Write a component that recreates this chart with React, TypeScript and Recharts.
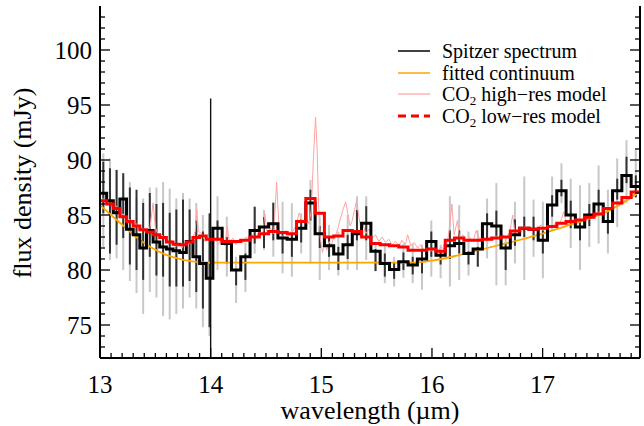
import React from 'react';
import { ComposedChart, Line, Scatter, ErrorBar, XAxis, YAxis, Label } from 'recharts';

const FONT = '"Liberation Serif", "Times New Roman", serif';

// bin edges of the binned Spitzer spectrum (µm)
const binEdges = [
  13.00, 13.06, 13.12, 13.18, 13.24, 13.30, 13.36, 13.42, 13.48, 13.54, 13.60, 13.66, 13.72, 13.78, 13.84, 13.90, 13.96,
  14.02, 14.104, 14.188, 14.272, 14.356, 14.44, 14.524, 14.608, 14.692, 14.776, 14.86, 14.944, 15.028, 15.112, 15.196,
  15.28, 15.364, 15.448, 15.532, 15.616, 15.70, 15.784, 15.868, 15.952, 16.036, 16.12, 16.204, 16.288, 16.372, 16.456,
  16.54, 16.624, 16.708, 16.792, 16.876, 16.96, 17.044, 17.128, 17.212, 17.296, 17.38, 17.464, 17.548, 17.632, 17.716,
  17.80, 17.884,
];

// bin centres (where the error bars sit)
const binCenters = [
  13.03, 13.09, 13.15, 13.21, 13.27, 13.33, 13.39, 13.45, 13.51, 13.57, 13.63, 13.69, 13.75, 13.81, 13.87, 13.93, 13.99,
  14.062, 14.146, 14.23, 14.314, 14.398, 14.482, 14.566, 14.65, 14.734, 14.818, 14.902, 14.986, 15.07, 15.154, 15.238,
  15.322, 15.406, 15.49, 15.574, 15.658, 15.742, 15.826, 15.91, 15.994, 16.078, 16.162, 16.246, 16.33, 16.414, 16.498,
  16.582, 16.666, 16.75, 16.834, 16.918, 17.002, 17.086, 17.17, 17.254, 17.338, 17.422, 17.506, 17.59, 17.674, 17.758,
  17.842,
];

// Spitzer spectrum (mJy), one value per bin
const spitzer = [
  86.97, 86.3, 85.2, 86.45, 83.7, 83.2, 82.0, 83.6, 82.55, 82.1, 81.9, 81.75, 81.6, 82.6, 81.2, 80.6, 79.25,
  83.8, 82.4, 80.0, 81.2, 83.6, 83.9, 84.2, 82.9, 82.8, 83.8, 86.1, 83.3, 82.2, 81.45, 82.3, 83.3, 84.25, 81.7,
  80.6, 80.05, 80.75, 80.45, 81.0, 82.6, 81.35, 82.2, 82.4, 81.5, 81.9, 84.2, 84.0, 82.0, 83.2, 83.8, 83.7, 82.7,
  85.9, 87.2, 85.0, 83.9, 85.0, 86.0, 84.4, 87.2, 88.6, 87.6,
];

// CO2 low-res model (mJy), one value per bin
const lowRes = [
  86.3, 86.0, 85.6, 84.85, 84.4, 84.0, 83.65, 83.45, 83.2, 82.95, 82.55, 82.35, 82.3, 82.55, 82.95, 83.1, 82.8,
  82.8, 82.6, 82.6, 82.7, 83.0, 83.3, 83.5, 83.4, 83.3, 84.4, 86.5, 85.15, 83.0, 83.1, 83.6, 83.5, 83.0, 82.4,
  82.3, 82.2, 82.1, 81.8, 81.8, 81.9, 81.7, 82.7, 82.9, 82.7, 82.7, 82.8, 82.9, 83.0, 83.55, 83.8, 83.7, 83.8,
  83.95, 84.25, 84.4, 84.55, 84.8, 85.1, 85.6, 86.1, 86.6, 87.1,
];

// inner (dark) error bars: low / high
const darkLo = [
  85.15, 81.5, 82.3, 82.9, 80.5, 80.0, 79.1, 81.2, 79.5, 79.4, 78.5, 78.5, 78.5, 79.0, 78.0, 76.5, 74.8,
  82.7, 80.6, 78.6, 79.1, 82.4, 82.0, 82.7, 81.5, 81.2, 82.5, 84.5, 82.0, 81.2, 80.0, 81.0, 82.7, 82.7, 79.9,
  79.4, 79.2, 80.0, 79.6, 79.7, 81.2, 80.5, 81.0, 81.5, 80.5, 80.3, 82.7, 82.9, 80.0, 82.2, 83.0, 82.7, 81.5,
  84.85, 86.7, 83.8, 82.7, 84.0, 85.15, 83.3, 86.4, 87.9, 86.6,
];
const darkHi = [
  89.85, 89.25, 89.1, 88.8, 87.5, 87.3, 86.1, 87.0, 86.0, 86.1, 85.2, 85.5, 86.4, 85.5, 84.5, 83.5, 85.15,
  84.5, 83.0, 80.0, 81.5, 85.75, 84.8, 86.1, 83.3, 83.3, 84.6, 87.3, 84.0, 83.0, 82.1, 83.2, 85.45, 85.8, 81.9,
  81.5, 80.7, 81.6, 81.2, 81.8, 83.5, 81.7, 83.6, 83.6, 81.7, 82.1, 85.15, 85.4, 82.4, 84.6, 84.85, 84.85, 83.6,
  86.8, 88.2, 86.3, 84.5, 86.0, 87.3, 85.45, 88.3, 90.3, 88.6,
];

// outer (grey) error bars: low / high
const greyLo = [
  82.1, 80.9, 81.06, 80.0, 79.0, 77.9, 76.0, 78.0, 77.5, 75.8, 75.5, 76.0, 76.5, 77.5, 76.5, 74.8, 74.0,
  80.0, 79.4, 77.0, 78.0, 81.5, 81.8, 81.2, 79.7, 79.4, 81.5, 80.6, 79.1, 80.0, 79.5, 80.0, 80.0, 80.9, 79.9,
  78.8, 78.5, 79.3, 78.8, 78.2, 79.4, 79.25, 78.5, 79.1, 79.5, 80.3, 81.06, 78.6, 78.6, 80.6, 79.1, 81.2, 79.25,
  83.6, 86.06, 82.0, 80.0, 82.1, 82.4, 81.5, 83.9, 86.06, 87.3,
];
const greyHi = [
  90.6, 90.15, 89.1, 88.5, 88.0, 86.5, 86.5, 87.5, 87.5, 88.0, 87.4, 86.5, 87.0, 86.5, 86.1, 85.0, 84.5,
  86.7, 84.85, 81.2, 82.5, 85.75, 85.45, 86.2, 86.2, 86.06, 85.15, 88.2, 84.85, 84.1, 83.5, 85.0, 86.7, 86.7, 82.4,
  82.4, 81.2, 82.4, 82.4, 82.3, 84.5, 82.3, 86.7, 85.9, 83.5, 83.6, 86.5, 87.9, 83.0, 86.2, 88.5, 86.4, 86.2,
  88.5, 89.7, 88.3, 87.7, 87.9, 89.5, 87.3, 90.15, 91.8, 90.9,
];

// CO2 high-res model [wavelength, flux]
const hiRes = [
  [13.00, 86.2], [13.03, 86.5], [13.06, 85.9], [13.09, 86.1], [13.12, 85.5], [13.15, 85.8], [13.18, 84.9],
  [13.21, 85.1], [13.24, 84.3], [13.27, 84.6], [13.30, 83.9], [13.33, 84.2], [13.36, 83.5], [13.39, 83.8],
  [13.42, 83.3], [13.45, 83.7], [13.48, 86.1], [13.50, 83.9], [13.53, 83.0], [13.56, 83.2], [13.59, 82.7],
  [13.62, 82.4], [13.65, 82.7], [13.68, 82.1], [13.71, 82.4], [13.74, 82.0], [13.77, 82.5], [13.80, 82.3],
  [13.83, 82.8], [13.86, 83.5], [13.875, 85.5], [13.89, 83.5], [13.92, 83.3], [13.95, 82.6], [13.98, 83.0],
  [14.01, 82.4], [14.04, 82.9], [14.07, 82.3], [14.10, 82.8], [14.13, 82.2], [14.15, 84.0], [14.17, 82.5],
  [14.20, 82.9], [14.23, 82.3], [14.26, 82.8], [14.29, 82.5], [14.32, 83.0], [14.35, 82.7], [14.38, 83.2],
  [14.41, 82.9], [14.44, 83.5], [14.47, 83.2], [14.49, 85.1], [14.51, 83.4], [14.54, 83.8], [14.57, 83.3],
  [14.596, 88.0], [14.62, 83.5], [14.65, 83.0], [14.68, 83.6], [14.71, 83.1], [14.74, 83.5], [14.77, 84.0],
  [14.80, 85.2], [14.83, 84.3], [14.86, 84.8], [14.89, 84.2], [14.91, 85.5], [14.93, 90.5], [14.948, 93.9],
  [14.962, 91.0], [14.975, 86.0], [14.99, 83.0], [15.01, 81.6], [15.03, 82.4], [15.05, 81.8], [15.07, 82.6],
  [15.09, 82.2], [15.11, 82.9], [15.13, 83.2], [15.15, 83.8], [15.17, 84.6], [15.19, 85.3], [15.22, 86.2],
  [15.24, 85.1], [15.26, 84.0], [15.28, 84.5], [15.30, 85.5], [15.32, 86.3], [15.34, 84.8], [15.36, 83.6],
  [15.38, 84.1], [15.40, 83.3], [15.43, 83.7], [15.46, 82.9], [15.49, 83.2], [15.52, 82.6], [15.55, 83.0],
  [15.58, 82.5], [15.61, 82.8], [15.64, 82.3], [15.67, 82.6], [15.70, 82.2], [15.73, 82.7], [15.76, 82.3],
  [15.78, 83.2], [15.81, 82.2], [15.84, 82.5], [15.87, 82.0], [15.90, 82.3], [15.93, 81.8], [15.96, 82.1],
  [15.99, 81.7], [16.02, 82.0], [16.05, 81.6], [16.08, 82.1], [16.11, 81.9], [16.14, 82.5], [16.16, 84.0],
  [16.18, 86.0], [16.20, 83.2], [16.23, 84.5], [16.25, 82.8], [16.28, 83.2], [16.31, 82.6], [16.34, 83.0],
  [16.37, 82.6], [16.40, 83.6], [16.43, 82.8], [16.46, 83.1], [16.49, 82.6], [16.52, 83.0], [16.55, 82.7],
  [16.58, 83.1], [16.61, 82.8], [16.64, 83.2], [16.67, 82.9], [16.70, 83.4], [16.73, 85.0], [16.75, 83.3],
  [16.78, 83.7], [16.81, 83.5], [16.84, 84.0], [16.87, 83.6], [16.90, 83.9], [16.93, 83.6], [16.96, 83.9],
  [16.99, 84.1], [17.02, 83.7], [17.05, 84.0], [17.08, 83.8], [17.11, 84.2], [17.14, 84.0], [17.17, 84.6],
  [17.19, 85.3], [17.21, 84.5], [17.24, 84.2], [17.27, 84.6], [17.30, 84.3], [17.33, 84.7], [17.36, 84.5],
  [17.39, 84.9], [17.42, 84.7], [17.45, 85.1], [17.48, 84.9], [17.51, 85.3], [17.54, 85.1], [17.57, 85.5],
  [17.60, 85.4], [17.63, 85.8], [17.66, 85.7], [17.69, 86.2], [17.72, 86.0], [17.75, 86.5], [17.78, 86.4],
  [17.81, 86.9], [17.84, 86.8], [17.88, 87.2],
];

// fitted continuum [wavelength, flux]
const continuum = [
  [13.00, 85.9], [13.10, 85.0], [13.22, 83.95], [13.34, 82.9], [13.46, 82.06], [13.58, 81.45], [13.70, 81.06],
  [13.82, 80.8], [13.95, 80.68], [14.10, 80.67], [15.85, 80.67], [16.0, 80.85], [16.2, 81.25], [16.4, 81.75],
  [16.6, 82.25], [16.8, 82.75], [17.0, 83.3], [17.2, 83.95], [17.4, 84.6], [17.6, 85.4], [17.7, 85.95],
  [17.8, 86.6], [17.88, 87.2],
];

// order-switch marker at 14 µm
const marker = [[14, 72], [14, 95.6]];

const xDomain = [13, 17.88];
const yDomain = [72, 104];
const xMajor = [13, 14, 15, 16, 17];
const yMajor = [75, 80, 85, 90, 95, 100];

const xTicks: number[] = [];
for (let i = 130; i <= 178; i++) xTicks.push(i / 10);
const yTicks: number[] = [];
for (let v = 73; v <= 103; v++) yTicks.push(v);

const isMajorX = (v: number) => xMajor.includes(Math.round(v * 10) / 10);

// tables for recharts
const stepData = (vals: number[]) =>
  binEdges.map((x, i) => ({ x, y: vals[Math.min(i, vals.length - 1)] }));
const spitzerData = stepData(spitzer);
const lowResData = stepData(lowRes);
const darkData = binCenters.map((x, i) => ({ x, y: darkLo[i], err: [0, darkHi[i] - darkLo[i]] }));
const greyData = binCenters.map((x, i) => ({ x, y: greyLo[i], err: [0, greyHi[i] - greyLo[i]] }));
const hiResData = hiRes.map(([x, y]) => ({ x, y }));
const contData = continuum.map(([x, y]) => ({ x, y }));
const markerData = marker.map(([x, y]) => ({ x, y }));

const BottomTick = (props: any) => {
  const { x, y, payload } = props;
  const major = isMajorX(payload.value);
  return (
    <g>
      <line x1={x} x2={x} y1={y} y2={y - (major ? 10 : 5)} stroke="#000" strokeWidth={1.3} />
      {major && (
        <text x={x} y={y + 35} textAnchor="middle" fontFamily={FONT} fontSize={25} fill="#000">
          {Math.round(payload.value)}
        </text>
      )}
    </g>
  );
};

const TopTick = (props: any) => {
  const { x, y, payload } = props;
  const major = isMajorX(payload.value);
  return <line x1={x} x2={x} y1={y} y2={y + (major ? 10 : 5)} stroke="#000" strokeWidth={1.3} />;
};

const LeftTick = (props: any) => {
  const { x, y, payload } = props;
  const major = yMajor.includes(payload.value);
  return (
    <g>
      <line x1={x} x2={x + (major ? 10 : 5)} y1={y} y2={y} stroke="#000" strokeWidth={1.3} />
      {major && (
        <text x={x - 8} y={y} dy="0.34em" textAnchor="end" fontFamily={FONT} fontSize={25} fill="#000">
          {payload.value}
        </text>
      )}
    </g>
  );
};

const RightTick = (props: any) => {
  const { x, y, payload } = props;
  const major = yMajor.includes(payload.value);
  return <line x1={x} x2={x - (major ? 10 : 5)} y1={y} y2={y} stroke="#000" strokeWidth={1.3} />;
};

const Sub = ({ children }: { children: React.ReactNode }) => (
  <span style={{ fontSize: 13, position: 'relative', top: 4, lineHeight: 0 }}>{children}</span>
);

const legendRows = [
  { key: 'spitzer', color: '#000', width: 1.5, dash: undefined, label: <>Spitzer spectrum</> },
  { key: 'cont', color: '#ffa500', width: 1.5, dash: undefined, label: <>fitted continuum</> },
  { key: 'hi', color: '#ffb0b0', width: 1.5, dash: undefined, label: <>CO<Sub>2</Sub> high−res model</> },
  { key: 'lo', color: '#ff0000', width: 3, dash: '8 5', label: <>CO<Sub>2</Sub> low−res model</> },
];

export default function App() {
  return (
    <div style={{ position: 'absolute', left: 0, top: 0, width: 644, height: 426, background: '#fff' }}>
      <ComposedChart width={644} height={426} margin={{ top: 6, right: 0, bottom: 0, left: 0 }}>
        <XAxis
          xAxisId="b" type="number" dataKey="x" domain={xDomain} allowDataOverflow
          ticks={xTicks} interval={0} tickSize={0} tickMargin={0} tickLine={false} height={68}
          axisLine={{ stroke: '#000', strokeWidth: 2 }} tick={<BottomTick />}
        >
          <Label
            content={() => (
              <text x={370} y={419} textAnchor="middle" fontFamily={FONT} fontSize={26} fill="#000">
                wavelength (µm)
              </text>
            )}
          />
        </XAxis>
        <XAxis
          xAxisId="t" orientation="top" type="number" dataKey="x" domain={xDomain} allowDataOverflow
          ticks={xTicks} interval={0} tickSize={0} tickMargin={0} tickLine={false} height={0}
          axisLine={{ stroke: '#000', strokeWidth: 2 }} tick={<TopTick />}
        />
        <YAxis
          yAxisId="l" type="number" dataKey="y" domain={yDomain} allowDataOverflow
          ticks={yTicks} interval={0} tickSize={0} tickMargin={0} tickLine={false} width={100}
          axisLine={{ stroke: '#000', strokeWidth: 2 }} tick={<LeftTick />}
        >
          <Label
            content={() => (
              <text x={31} y={183} transform="rotate(-90 31 183)" textAnchor="middle" fontFamily={FONT} fontSize={26} fill="#000">
                flux density (mJy)
              </text>
            )}
          />
        </YAxis>
        <YAxis
          yAxisId="r" orientation="right" type="number" domain={yDomain} allowDataOverflow
          ticks={yTicks} interval={0} tickSize={0} tickMargin={0} tickLine={false} width={4}
          axisLine={{ stroke: '#000', strokeWidth: 2 }} tick={<RightTick />}
        />

        <Scatter xAxisId="b" yAxisId="l" data={greyData} dataKey="y" shape={() => <g />} isAnimationActive={false}>
          <ErrorBar dataKey="err" direction="y" width={0} stroke="#c8c8c8" strokeWidth={2} />
        </Scatter>
        <Scatter xAxisId="b" yAxisId="l" data={darkData} dataKey="y" shape={() => <g />} isAnimationActive={false}>
          <ErrorBar dataKey="err" direction="y" width={0} stroke="#333" strokeWidth={2} />
        </Scatter>
        <Line xAxisId="b" yAxisId="l" data={hiResData} dataKey="y" type="linear" stroke="#ffa3a3" strokeWidth={1} dot={false} isAnimationActive={false} />
        <Line xAxisId="b" yAxisId="l" data={contData} dataKey="y" type="monotone" stroke="#ffa500" strokeWidth={1.8} dot={false} isAnimationActive={false} />
        <Line xAxisId="b" yAxisId="l" data={markerData} dataKey="y" type="linear" stroke="#111" strokeWidth={1.4} dot={false} isAnimationActive={false} />
        <Line xAxisId="b" yAxisId="l" data={spitzerData} dataKey="y" type="stepAfter" stroke="#000" strokeWidth={3} dot={false} isAnimationActive={false} />
        <Line xAxisId="b" yAxisId="l" data={lowResData} dataKey="y" type="stepAfter" stroke="#ff0000" strokeWidth={3} dot={false} isAnimationActive={false} />
      </ComposedChart>

      <div style={{ position: 'absolute', left: 398, top: 40, fontFamily: FONT, fontSize: 20, color: '#000' }}>
        {legendRows.map((r) => (
          <div key={r.key} style={{ display: 'flex', alignItems: 'center', height: 21.8, whiteSpace: 'nowrap' }}>
            <svg width={32} height={6}>
              <line x1={0} x2={32} y1={3} y2={3} stroke={r.color} strokeWidth={r.width} strokeDasharray={r.dash} />
            </svg>
            <span style={{ marginLeft: 12, lineHeight: '20px' }}>{r.label}</span>
          </div>
        ))}
      </div>
    </div>
  );
}
